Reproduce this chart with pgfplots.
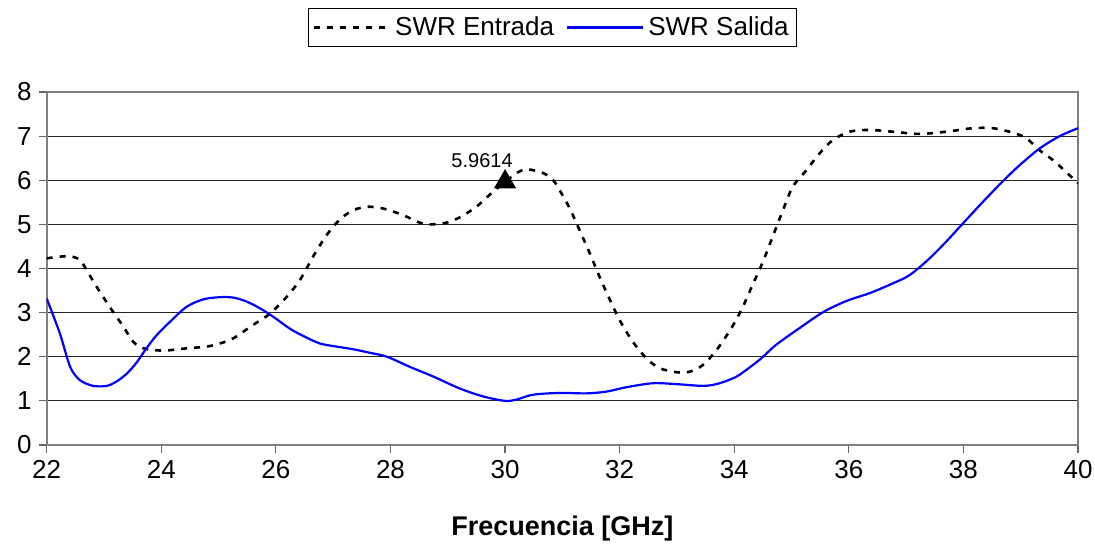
\documentclass[border=0pt]{standalone}
\usepackage{fontspec}
\setmainfont{Liberation Sans}
\usepackage{pgfplots}
\pgfplotsset{compat=1.18}
\usepackage{pgfplotstable}

% SWR de entrada (GHz, SWR)
\pgfplotstableread{
f swr
22.00 4.23
22.38 4.28
22.58 4.19
22.73 3.89
22.87 3.59
23.10 3.13
23.34 2.68
23.51 2.34
23.69 2.19
24.03 2.14
24.44 2.19
24.79 2.23
25.02 2.30
25.26 2.42
25.60 2.72
25.90 2.98
26.19 3.36
26.42 3.74
26.65 4.27
26.83 4.65
27.00 4.95
27.17 5.17
27.35 5.32
27.58 5.40
27.87 5.36
28.22 5.21
28.51 5.04
28.71 5.00
28.98 5.04
29.21 5.16
29.50 5.40
29.79 5.74
30.00 5.96
30.20 6.16
30.38 6.25
30.67 6.16
30.84 6.00
30.95 5.78
31.13 5.36
31.30 4.87
31.48 4.34
31.65 3.81
31.83 3.29
32.00 2.83
32.23 2.34
32.47 1.96
32.70 1.74
32.99 1.65
33.22 1.66
33.45 1.81
33.69 2.15
33.95 2.65
34.15 3.13
34.33 3.66
34.50 4.15
34.67 4.72
34.85 5.32
35.02 5.85
35.26 6.23
35.49 6.61
35.72 6.91
36.01 7.10
36.36 7.14
36.77 7.10
37.23 7.05
37.70 7.10
38.16 7.18
38.51 7.18
38.86 7.08
39.10 6.95
39.33 6.68
39.56 6.46
39.79 6.19
40.00 5.93
}\entrada

% SWR de salida (GHz, SWR)
\pgfplotstableread{
f swr
22.00 3.32
22.23 2.53
22.41 1.77
22.58 1.47
22.81 1.34
23.05 1.34
23.22 1.44
23.40 1.62
23.57 1.87
23.74 2.19
23.92 2.49
24.15 2.79
24.44 3.13
24.73 3.30
25.02 3.35
25.26 3.34
25.49 3.25
25.72 3.10
25.95 2.91
26.24 2.64
26.48 2.47
26.77 2.30
27.06 2.23
27.35 2.17
27.64 2.09
27.94 2.00
28.34 1.77
28.75 1.55
29.21 1.28
29.62 1.10
30.00 1.00
30.20 1.03
30.49 1.14
30.95 1.18
31.42 1.17
31.77 1.21
32.12 1.31
32.58 1.40
32.99 1.38
33.45 1.34
33.69 1.38
33.92 1.48
34.09 1.59
34.44 1.93
34.73 2.27
35.13 2.64
35.55 3.01
35.95 3.26
36.36 3.44
36.71 3.63
37.06 3.85
37.41 4.23
37.70 4.61
37.99 5.02
38.34 5.51
38.69 5.98
38.98 6.34
39.33 6.72
39.68 7.00
40.00 7.18
}\salida

\begin{document}
\begin{tikzpicture}
\useasboundingbox (-23.35pt,-49.5pt) rectangle (524.15pt,222.5pt);
\begin{axis}[
  scale only axis,
  width=515.65pt, height=176.5pt,
  xmin=22, xmax=40, ymin=0, ymax=8,
  xtick={22,24,...,40}, ytick={0,1,...,8},
  tick pos=left, tick align=outside,
  major tick length=4pt,
  tick style={black!60, line width=0.6pt},
  axis line style={black!50, line width=0.9pt},
  ymajorgrids,
  grid style={black!85, line width=0.5pt},
  /pgf/number format/assume math mode=true,
  tick label style={font=\fontsize{13}{15}\selectfont},
  xlabel={Frecuencia [GHz]},
  xlabel style={font=\fontsize{13.5}{15}\selectfont\bfseries,
    at={(axis description cs:0.5,0)}, anchor=center, yshift=-42pt},
  legend columns=2,
  legend style={at={(0.4905,1)}, anchor=south, yshift=22.5pt,
    draw=black, line width=0.5pt, font=\fontsize{13}{15}\selectfont,
    inner xsep=2pt, inner ysep=2pt,
    /tikz/every even column/.append style={column sep=4pt}},
  legend image code/.code={\draw[#1] (0pt,0pt) -- (38pt,0pt);},
]
\addplot[black, line width=1.3pt, dash pattern=on 3pt off 3.5pt, smooth]
  table[x=f, y=swr] {\entrada};
\addlegendentry{SWR Entrada}
\addplot[blue, line width=1.1pt, smooth]
  table[x=f, y=swr] {\salida};
\addlegendentry{SWR Salida}
\addplot[only marks, mark=triangle*, mark size=6pt, black, forget plot,
  nodes near coords={5.9614},
  nodes near coords style={anchor=base east, inner sep=0pt,
    xshift=4pt, yshift=7pt, font=\fontsize{10}{12}\selectfont}]
  coordinates {(30,5.9614)};
\end{axis}
\end{tikzpicture}
\end{document}
